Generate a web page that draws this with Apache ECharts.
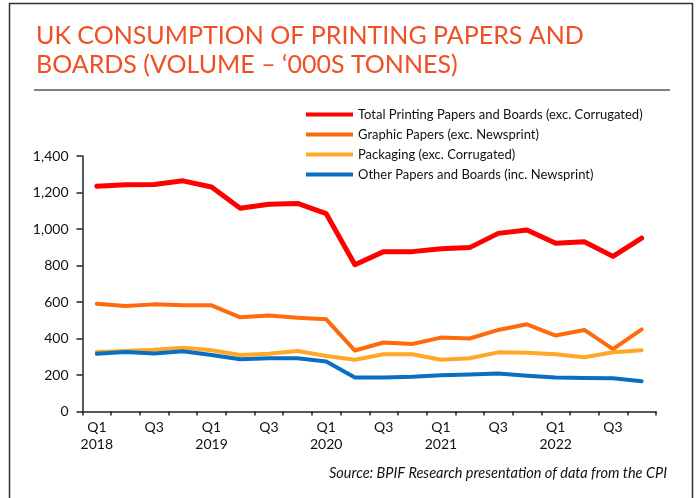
<!DOCTYPE html>
<html>
<head>
<meta charset="utf-8">
<script src="https://cdn.jsdelivr.net/npm/echarts@6/dist/echarts.min.js"></script>
<style>
  html, body { margin: 0; padding: 0; background: #fff; }
  #chart { width: 700px; height: 498px; }
</style>
</head>
<body>
<div id="chart"></div>
<script>
// Quarterly UK consumption, '000s tonnes, 2018 Q1 – 2022 Q4
const quarters = [
  'Q1\n2018', '', 'Q3', '',
  'Q1\n2019', '', 'Q3', '',
  'Q1\n2020', '', 'Q3', '',
  'Q1\n2021', '', 'Q3', '',
  'Q1\n2022', '', 'Q3', ''
];

const totalPrinting = [1234, 1242, 1244, 1264, 1230, 1114, 1136, 1140, 1084, 804,
                       876, 876, 892, 898, 976, 994, 922, 930, 850, 950];
const graphicPapers = [590, 578, 587, 582, 582, 516, 526, 514, 505, 334,
                       378, 370, 405, 400, 447, 478, 416, 447, 342, 450];
const packaging     = [326, 332, 338, 350, 336, 310, 317, 332, 304, 284,
                       314, 314, 284, 292, 324, 322, 314, 297, 325, 335];
const otherPapers   = [316, 326, 318, 330, 310, 286, 292, 292, 274, 186,
                       186, 190, 199, 203, 208, 196, 186, 183, 182, 166];

const seriesNames = [
  'Total Printing Papers and Boards (exc. Corrugated)',
  'Graphic Papers (exc. Newsprint)',
  'Packaging (exc. Corrugated)',
  'Other Papers and Boards (inc. Newsprint)'
];

const FONT = 'Lato, "Open Sans", sans-serif';

const chart = echarts.init(document.getElementById('chart'), null, { renderer: 'canvas' });

function lineSeries(name, data, color, width) {
  return {
    name: name,
    type: 'line',
    data: data,
    symbol: 'none',
    smooth: false,
    lineStyle: { color: color, width: width, cap: 'round', join: 'round' },
    itemStyle: { color: color }
  };
}

chart.setOption({
  animation: false,
  backgroundColor: '#fff',
  title: {
    text: 'UK CONSUMPTION OF PRINTING PAPERS AND\nBOARDS (VOLUME – ‘000S TONNES)',
    left: 31,
    top: 16,
    textStyle: {
      fontFamily: FONT,
      fontWeight: 'normal',
      fontSize: 25,
      lineHeight: 29,
      color: '#ef4f24'
    }
  },
  legend: {
    orient: 'vertical',
    left: 306,
    top: 108,
    padding: 0,
    icon: 'rect',
    itemWidth: 47,
    itemHeight: 4,
    itemGap: 7,
    textStyle: { fontFamily: FONT, fontSize: 13, color: '#111' },
    data: seriesNames
  },
  grid: {
    left: 82.5,
    right: 44,
    top: 156,
    bottom: 86.5,
    containLabel: false
  },
  xAxis: {
    type: 'category',
    data: quarters,
    boundaryGap: true,
    axisLine: { lineStyle: { color: '#222', width: 1.5 } },
    axisTick: { show: true, length: 4, interval: 0, lineStyle: { color: '#222', width: 1.5 } },
    axisLabel: {
      interval: 0,
      margin: 7,
      fontFamily: FONT,
      fontSize: 14,
      lineHeight: 17,
      color: '#111'
    },
    splitLine: { show: false }
  },
  yAxis: {
    type: 'value',
    min: 0,
    max: 1400,
    interval: 200,
    axisLine: { show: true, lineStyle: { color: '#222', width: 1.5 } },
    axisTick: { show: true, length: 6, lineStyle: { color: '#222', width: 1.5 } },
    axisLabel: {
      margin: 14,
      fontFamily: FONT,
      fontSize: 14,
      color: '#111',
      formatter: function (v) { return v.toLocaleString('en-GB'); }
    },
    splitLine: { show: false }
  },
  series: [
    lineSeries(seriesNames[0], totalPrinting, '#ff0000', 5),
    lineSeries(seriesNames[1], graphicPapers, '#ff6a0d', 4),
    lineSeries(seriesNames[2], packaging, '#ffa726', 4),
    lineSeries(seriesNames[3], otherPapers, '#0a6fc2', 4)
  ],
  graphic: [
    // outer frame (open at the bottom)
    {
      type: 'polyline',
      shape: { points: [[9.5, 500], [9.5, 3.5], [692.5, 3.5], [692.5, 500]] },
      style: { stroke: '#333', lineWidth: 1.5, fill: null }
    },
    // rule under the heading
    {
      type: 'line',
      shape: { x1: 34, y1: 90, x2: 670, y2: 90 },
      style: { stroke: '#808080', lineWidth: 2 }
    },
    {
      type: 'text',
      right: 33,
      top: 466,
      style: {
        text: 'Source: BPIF Research presentation of data from the CPI',
        fontFamily: FONT,
        fontStyle: 'italic',
        fontSize: 14.5,
        fill: '#111'
      }
    }
  ]
});
</script>
</body>
</html>
